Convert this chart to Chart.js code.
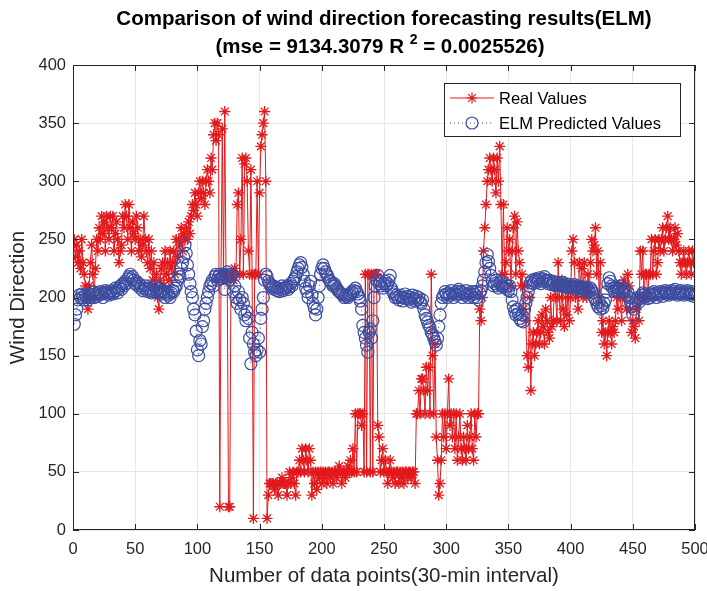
<!DOCTYPE html>
<html>
<head>
  <title>Wind direction forecasting (ELM)</title>
  <script src="https://cdn.jsdelivr.net/npm/chart.js"></script>
  <style>
    body {
      margin: 0;
      background: #fff;
    }

    .chart-container {
      position: relative;
      width: 707px;
      height: 591px;
    }
  </style>
</head>
<body>
  <div class="chart-container">
    <canvas id="windChart"></canvas>
  </div>
  <script>
    // Real wind direction, points 1..500
    const realValues = [
      250, 235, 245, 230, 240, 225, 250, 230, 220, 210,
      200, 190, 210, 230, 245, 220, 200, 225, 250, 240,
      260, 250, 270, 255, 265, 240, 270, 260, 250, 270,
      260, 270, 240, 255, 265, 250, 230, 240, 245, 270,
      260, 280, 270, 250, 280, 260, 240, 265, 255, 250,
      270, 260, 240, 250, 235, 245, 270, 250, 240, 230,
      250, 225, 240, 215, 230, 210, 220, 200, 190, 215,
      225, 230, 210, 240, 220, 230, 215, 240, 225, 230,
      240, 220, 250, 235, 250, 245, 260, 240, 255, 250,
      260, 250, 265, 255, 270, 280, 275, 290, 280, 270,
      290, 300, 285, 300, 290, 280, 300, 310, 300, 290,
      320, 310, 340, 350, 335, 350, 340, 20, 220, 345,
      220, 360, 220, 215, 20, 20, 220, 220, 215, 225,
      220, 280, 290, 220, 250, 320, 220, 315, 320, 300,
      240, 220, 310, 220, 10, 220, 220, 300, 220, 290,
      330, 340, 350, 360, 300, 10, 30, 40, 40, 40,
      40, 35, 40, 40, 30, 40, 40, 45, 40, 40,
      40, 30, 40, 50, 40, 45, 50, 40, 30, 50,
      50, 60, 50, 70, 60, 50, 70, 60, 50, 70,
      60, 30, 50, 40, 50, 35, 50, 45, 50, 40,
      50, 45, 50, 40, 50, 50, 45, 50, 40, 50,
      50, 45, 50, 55, 50, 40, 50, 50, 45, 50,
      55, 50, 60, 50, 70, 50, 100, 50, 100, 100,
      100, 90, 100, 50, 220, 50, 220, 220, 50, 220,
      50, 220, 220, 220, 90, 80, 50, 60, 70, 50,
      60, 50, 40, 50, 60, 50, 45, 50, 40, 50,
      50, 40, 50, 45, 50, 40, 50, 50, 45, 50,
      50, 45, 50, 50, 40, 100, 100, 120, 100, 130,
      130, 120, 100, 140, 120, 140, 100, 220, 150, 100,
      160, 80, 60, 30, 40, 60, 100, 80, 100, 70,
      100, 130, 90, 100, 80, 100, 70, 100, 60, 80,
      100, 70, 60, 80, 70, 60, 90, 70, 80, 100,
      70, 60, 100, 80, 100, 100, 190, 180, 200, 240,
      260, 280, 300, 310, 320, 310, 300, 320, 310, 290,
      320, 300, 330, 280, 220, 280, 220, 230, 260, 240,
      250, 210, 240, 260, 270, 220, 265, 240, 230, 210,
      220, 190, 210, 180, 150, 140, 200, 120, 160, 170,
      150, 160, 170, 180, 160, 170, 185, 175, 160, 190,
      180, 170, 165, 200, 175, 180, 210, 200, 180, 230,
      200, 180, 215, 190, 175, 200, 185, 210, 180, 200,
      240, 250, 230, 200, 210, 190, 230, 210, 225, 200,
      230, 210, 200, 220, 205, 230, 250, 240, 245, 260,
      220, 240, 200, 230, 170, 180, 160, 170, 150, 170,
      180, 170, 160, 175, 170, 180, 200, 190, 210, 200,
      180, 210, 215, 200, 190, 220, 210, 190, 170, 180,
      175, 165, 190, 200, 180, 240, 220, 240, 200, 220,
      220, 200, 220, 220, 250, 220, 240, 250, 220, 230,
      250, 240, 250, 260, 240, 250, 260, 270, 250, 260,
      250, 240, 250, 260, 245, 255, 240, 230, 220, 230,
      240, 230, 220, 230, 240, 230, 220, 240, 230, 240
    ];

    // ELM predicted wind direction, points 1..500
    const elmValues = [
      177, 185, 190, 198, 202, 200, 203, 200, 198, 202,
      200, 198, 203, 200, 202, 205, 200, 203, 201, 204,
      202, 205, 203, 200, 204, 206, 203, 205, 202, 204,
      206, 203, 205, 208, 206, 204, 208, 210, 207, 212,
      210, 214, 212, 216, 218, 220, 216, 218, 215, 212,
      214, 210, 212, 208, 210, 206, 208, 210, 207, 205,
      208, 206, 204, 207, 205, 210, 206, 204, 208, 205,
      203, 206, 204, 200, 203, 205, 202, 200, 204, 206,
      205, 208, 210, 215, 220, 218, 225, 230, 235, 245,
      238, 228, 220, 212, 205, 200, 190, 185, 171, 155,
      150, 163, 160, 175, 180, 190, 195, 200, 205, 210,
      212, 215, 210, 218, 220, 215, 218, 220, 216, 218,
      220, 207, 218, 222, 220, 215, 218, 220, 205, 210,
      200, 195, 205, 198, 190, 200, 195, 185, 180, 188,
      182, 165, 143, 170, 160, 153, 150, 155, 165, 153,
      182, 190, 200, 215, 220, 218, 214, 212, 210, 208,
      210, 207, 209, 206, 208, 205, 207, 210, 206, 208,
      208, 210, 207, 209, 212, 210, 214, 216, 218, 222,
      225, 228, 230, 226, 220, 214, 208, 205, 200, 210,
      214, 202, 195, 191, 185, 190, 200, 210, 220, 225,
      228, 225, 222, 220, 218, 215, 214, 212, 210, 212,
      210, 208, 206, 205, 204, 203, 202, 200, 202, 201,
      200, 202, 203, 205, 204, 206, 208, 205, 203, 200,
      197, 190, 176, 170, 165, 159, 153, 170, 173, 165,
      180, 200, 210, 215, 219, 212, 214, 210, 208, 212,
      214, 210, 212, 215, 219, 208, 205, 203, 200, 202,
      200, 198, 202, 200, 197, 200, 203, 199, 201, 198,
      200, 196, 202, 199, 197, 201, 198, 200, 196, 195,
      198, 190, 185, 182, 179, 176, 174, 170, 168, 165,
      162, 159, 165, 175, 185, 195, 200, 202, 205, 203,
      200, 204, 202, 206, 203, 200, 204, 202, 205, 207,
      203, 205, 200, 204, 202, 206, 203, 200, 204, 202,
      205, 200, 203, 205, 200, 198, 204, 206, 210, 215,
      222, 230, 237, 231, 225, 219, 214, 210, 212, 215,
      210, 208, 212, 214, 210, 209, 212, 208, 210, 206,
      210, 205, 198, 192, 188, 185, 190, 186, 182, 180,
      185, 179, 190, 195, 200, 205, 210, 213, 215, 212,
      214, 216, 213, 215, 217, 212, 214, 216, 218, 215,
      214, 212, 215, 213, 211, 214, 212, 210, 213, 211,
      212, 210, 213, 211, 209, 212, 210, 208, 211, 209,
      210, 208, 211, 209, 207, 210, 208, 206, 209, 207,
      208, 206, 209, 207, 205, 208, 206, 204, 200, 198,
      195, 192, 196, 190, 193, 191, 195, 198, 205, 212,
      217, 214, 210, 208, 206, 209, 207, 205, 208, 210,
      206, 204, 207, 205, 202, 205, 200, 196, 192, 185,
      190, 195, 198, 200, 196, 199, 202, 204, 200, 203,
      201, 199, 203, 200, 204, 202, 205, 203, 200, 204,
      202, 205, 203, 201, 204, 206, 203, 205, 202, 204,
      206, 203, 205, 207, 204, 202, 205, 203, 206, 204,
      202, 205, 203, 206, 204, 202, 205, 203, 201, 203
    ];

    const xTicks = [0, 50, 100, 150, 200, 250, 300, 350, 400, 450, 500];
    const yTicks = [0, 50, 100, 150, 200, 250, 300, 350, 400];
    const seriesNames = ['Real Values', 'ELM Predicted Values'];

    const RED = '#e3191c';
    const BLUE = '#3c4ca0';
    const AXIS = '#262626';
    const FONT = '"Liberation Sans", Arial, sans-serif';

    // title, legend box, inward ticks and the closed axes box (matlab look)
    const matlabAxes = {
      id: 'matlabAxes',
      afterDraw(chart) {
        const { ctx, chartArea: a, scales: { x, y } } = chart;
        ctx.save();

        // box
        ctx.strokeStyle = AXIS;
        ctx.lineWidth = 1;
        ctx.strokeRect(a.left + 0.5, a.top + 0.5, a.right - a.left - 1, a.bottom - a.top - 1);

        // ticks pointing inward
        ctx.beginPath();
        xTicks.forEach((v) => {
          const px = Math.round(x.getPixelForValue(v)) + 0.5;
          ctx.moveTo(px, a.bottom); ctx.lineTo(px, a.bottom - 6);
          ctx.moveTo(px, a.top); ctx.lineTo(px, a.top + 6);
        });
        yTicks.forEach((v) => {
          const py = Math.round(y.getPixelForValue(v)) + 0.5;
          ctx.moveTo(a.left, py); ctx.lineTo(a.left + 6, py);
          ctx.moveTo(a.right, py); ctx.lineTo(a.right - 6, py);
        });
        ctx.stroke();

        // title, two lines, second with superscript
        ctx.fillStyle = '#000';
        ctx.textBaseline = 'middle';
        ctx.textAlign = 'center';
        const cx = (a.left + a.right) / 2;
        ctx.font = 'bold 20.5px ' + FONT;
        ctx.fillText('Comparison of wind direction forecasting results(ELM)', cx, 19);

        const partA = '(mse = 9134.3079 R ';
        const partB = ' = 0.0025526)';
        const wA = ctx.measureText(partA).width;
        const wB = ctx.measureText(partB).width;
        ctx.font = 'bold 14px ' + FONT;
        const wS = ctx.measureText('2').width;
        const sx = cx - 4 - (wA + wS + wB) / 2;
        ctx.textAlign = 'left';
        ctx.font = 'bold 20.5px ' + FONT;
        ctx.fillText(partA, sx, 47);
        ctx.font = 'bold 14px ' + FONT;
        ctx.fillText('2', sx + wA, 40);
        ctx.font = 'bold 20.5px ' + FONT;
        ctx.fillText(partB, sx + wA + wS, 47);

        // legend
        const lx = 444, ly = 83, lw = 236, lh = 53;
        ctx.fillStyle = '#fff';
        ctx.fillRect(lx, ly, lw, lh);
        ctx.strokeStyle = AXIS;
        ctx.strokeRect(lx + 0.5, ly + 0.5, lw, lh);

        const rows = [
          { y: ly + 15, color: RED, fill: RED, dash: [], style: 'star', r: 5.5 },
          { y: ly + 40, color: BLUE, fill: 'rgba(0,0,0,0)', dash: [1, 3], style: 'circle', r: 6 }
        ];
        rows.forEach((row, i) => {
          ctx.strokeStyle = row.color;
          ctx.lineWidth = 1;
          ctx.setLineDash(row.dash);
          ctx.beginPath();
          ctx.moveTo(lx + 6, row.y); ctx.lineTo(lx + 50, row.y);
          ctx.stroke();
          ctx.setLineDash([]);
          ctx.lineWidth = 1.2;
          ctx.fillStyle = row.fill;
          Chart.helpers.drawPoint(ctx, { pointStyle: row.style, radius: row.r, borderWidth: 1.2 },
            lx + 28, row.y);
          ctx.fillStyle = '#000';
          ctx.font = '16.5px ' + FONT;
          ctx.fillText(seriesNames[i], lx + 55, row.y + 1);
        });

        ctx.restore();
      }
    };

    function drawChart() {
      const ctx = document.getElementById('windChart').getContext('2d');

      new Chart(ctx, {
        type: 'line',
        data: {
          datasets: [
            {
              label: seriesNames[1],
              data: elmValues.map((v, i) => ({ x: i + 1, y: v })),
              borderColor: BLUE,
              borderWidth: 1,
              borderDash: [1, 3],
              pointStyle: 'circle',
              pointRadius: 6,
              pointBorderWidth: 1.2,
              pointBorderColor: BLUE,
              pointBackgroundColor: 'rgba(0,0,0,0)',
              fill: false,
              order: 0
            },
            {
              label: seriesNames[0],
              data: realValues.map((v, i) => ({ x: i + 1, y: v })),
              borderColor: RED,
              borderWidth: 1,
              pointStyle: 'star',
              pointRadius: 5.5,
              pointBorderWidth: 1.3,
              pointBorderColor: RED,
              pointBackgroundColor: RED,
              fill: false,
              order: 1
            }
          ]
        },
        options: {
          responsive: true,
          maintainAspectRatio: false,
          animation: false,
          layout: { padding: { left: 0, right: 12, top: 65, bottom: 0 } },
          plugins: {
            legend: { display: false },
            title: { display: false },
            tooltip: { enabled: false }
          },
          scales: {
            x: {
              type: 'linear',
              min: 0,
              max: 500,
              afterFit: (s) => { s.height = 61; s.paddingLeft = 0; s.paddingRight = 0; },
              afterBuildTicks: (s) => { s.ticks = xTicks.map((v) => ({ value: v })); },
              grid: { color: '#e6e6e6', drawTicks: false },
              border: { display: false },
              ticks: { padding: 10, color: AXIS, font: { family: FONT, size: 16.5 } },
              title: {
                display: true,
                text: 'Number of data points(30-min interval)',
                color: AXIS,
                font: { family: FONT, size: 20.5 },
                padding: { top: 0, bottom: 2 }
              }
            },
            y: {
              min: 0,
              max: 400,
              afterFit: (s) => { s.width = 73; s.paddingTop = 0; s.paddingBottom = 0; },
              afterBuildTicks: (s) => { s.ticks = yTicks.map((v) => ({ value: v })); },
              grid: { color: '#e6e6e6', drawTicks: false },
              border: { display: false },
              ticks: { padding: 7, color: AXIS, font: { family: FONT, size: 16.5 } },
              title: {
                display: true,
                text: 'Wind Direction',
                color: AXIS,
                font: { family: FONT, size: 20.5 },
                padding: { top: 6, bottom: 0 }
              }
            }
          }
        },
        plugins: [matlabAxes]
      });
    }

    drawChart();
  </script>
</body>
</html>
